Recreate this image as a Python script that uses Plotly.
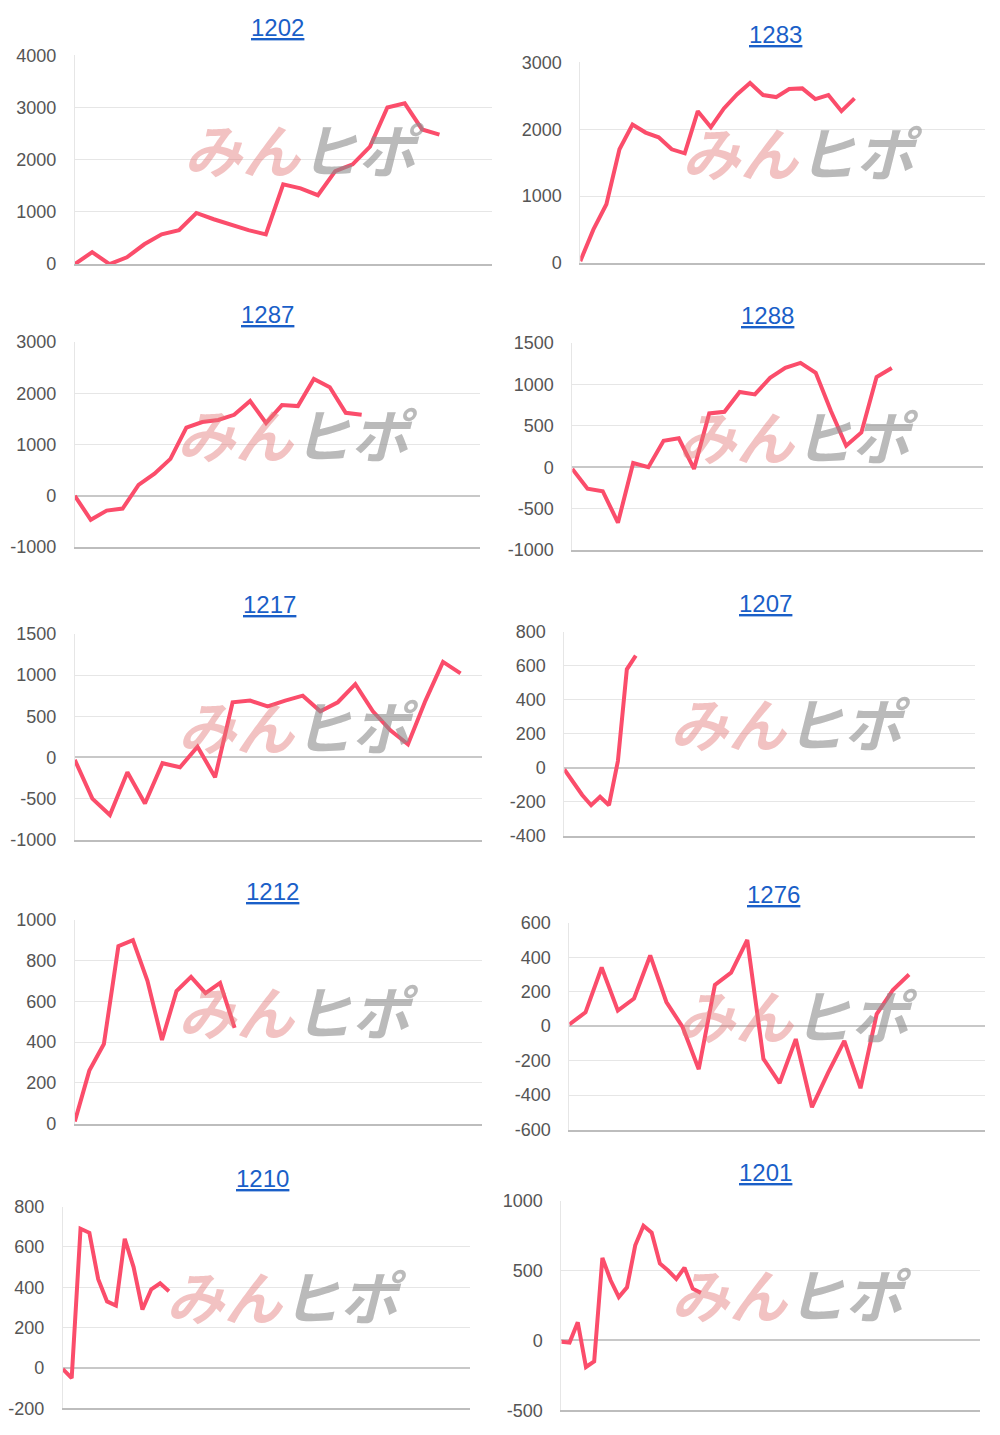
import plotly.graph_objects as go

W, H = 1000, 1435

# values per chart (cumulative result)
titles = ['1202', '1283', '1287', '1288', '1217', '1207', '1212', '1276', '1210', '1201']
vals_1202 = [0, 230, 0, 130, 380, 570, 650, 980, 860, 750, 650, 570, 1530, 1450, 1320, 1780, 1910, 2250, 3000, 3080, 2580, 2480]
vals_1283 = [30, 500, 880, 1700, 2070, 1950, 1880, 1700, 1640, 2270, 2030, 2310, 2520, 2690, 2510, 2480, 2600, 2610, 2450, 2510, 2270, 2460]
vals_1287 = [0, -470, -290, -250, 210, 430, 720, 1330, 1440, 1480, 1580, 1850, 1420, 1770, 1750, 2280, 2120, 1620, 1580]
vals_1288 = [-20, -260, -290, -670, 50, 0, 320, 350, -20, 650, 670, 910, 880, 1080, 1200, 1260, 1140, 680, 260, 420, 1090, 1200]
vals_1217 = [-30, -500, -700, -180, -560, -70, -120, 130, -240, 670, 690, 620, 690, 750, 560, 670, 890, 560, 330, 160, 690, 1160, 1020]
vals_1207 = [-10, -90, -160, -220, -170, -220, 40, 580, 660]
vals_1212 = [10, 260, 390, 870, 900, 700, 410, 650, 720, 640, 690, 470]
vals_1276 = [10, 80, 340, 90, 160, 410, 140, -5, -250, 240, 310, 500, -190, -330, -75, -470, -270, -85, -360, 70, 210, 300]
vals_1210 = [-5, -50, 690, 670, 440, 330, 310, 640, 500, 290, 390, 420, 380]
vals_1201 = [-10, -15, 130, -190, -150, 590, 430, 310, 380, 680, 820, 770, 550, 500, 440, 520, 370, 340]
series = [vals_1202, vals_1283, vals_1287, vals_1288, vals_1217,
          vals_1207, vals_1212, vals_1276, vals_1210, vals_1201]
x_slots = [24, 31, 25.4, 27, 23.2, 46, 28, 25.7, 46, 51]
y_ranges = [(0, 4000, 1000), (0, 3000, 1000), (-1000, 3000, 1000), (-1000, 1500, 500),
            (-1000, 1500, 500), (-400, 800, 200), (0, 1000, 200), (-600, 600, 200),
            (-200, 800, 200), (-500, 1000, 500)]

# pixel boxes of each plot area: x0, x1, ytop, ybottom, title center x, title y
boxes = [(72, 490, 54, 263, 275, 26), (579, 985, 61, 262, 775, 33),
         (72, 478, 341, 546, 265, 313), (571, 983, 342, 549, 767, 314),
         (72, 480, 633, 839, 267, 604), (563, 975, 631, 835, 765, 603),
         (72, 480, 919, 1123, 270, 891), (568, 985, 922, 1129, 773, 894),
         (60, 468, 1206, 1408, 260, 1178), (560, 980, 1200, 1410, 765, 1172)]


def px(x):
    return (x - 8) / W


def py_(y):
    # page offset correction
    return 1 - ((y - 16.7) / 0.9867) / H


fig = go.Figure()
annotations = []
layout = {}
for i, (name, vals) in enumerate(zip(titles, series)):
    n = i + 1
    x0, x1, yt, yb, tx, ty = boxes[i]
    ymin, ymax, dt = y_ranges[i]
    tv = list(range(ymin, ymax + 1, dt))
    xa = 'xaxis' if n == 1 else 'xaxis%d' % n
    ya = 'yaxis' if n == 1 else 'yaxis%d' % n
    layout[xa] = dict(domain=[px(x0), px(x1)], range=[0, x_slots[i]], showgrid=False,
                      showticklabels=False, zeroline=False, anchor='y' if n == 1 else 'y%d' % n,
                      showline=True, linecolor='#bdbdbd', linewidth=1.5)
    layout[ya] = dict(domain=[py_(yb), py_(yt)], range=[ymin, ymax],
                      tickvals=tv, ticktext=[str(v) for v in tv],
                      anchor='x' if n == 1 else 'x%d' % n,
                      gridcolor='#e6e6e6', zeroline=True, zerolinecolor='#c8c8c8',
                      zerolinewidth=1.5, showline=True, linecolor='#e6e6e6',
                      ticks='', ticklabelstandoff=14,
                      tickfont=dict(size=18, color='#555555', family='Liberation Sans'))
    fig.add_trace(go.Scatter(x=list(range(len(vals))), y=vals, mode='lines',
                             line=dict(color='#fb4d6b', width=4),
                             xaxis='x' if n == 1 else 'x%d' % n,
                             yaxis='y' if n == 1 else 'y%d' % n,
                             showlegend=False, hoverinfo='skip'))
    annotations.append(dict(text='<u>%s</u>' % name, x=px(tx), y=py_(ty),
                            xref='paper', yref='paper', showarrow=False,
                            xanchor='center', yanchor='middle',
                            font=dict(size=24, color='#1a5fc8', family='Liberation Sans')))
    # watermark
    annotations.append(dict(text='<b><i><span style="color:rgba(226,120,120,0.45)">みん</span>'
                                 '<span style="color:rgba(140,140,140,0.6)">ヒポ</span></i></b>',
                            x=px(x0 + 0.55 * (x1 - x0)), y=py_((yt + yb) / 2 - 12),
                            xanchor='center', yanchor='middle',
                            xref='paper', yref='paper', showarrow=False,
                            font=dict(size=58, family='Noto Sans CJK JP')))

fig.update_layout(width=W, height=H, margin=dict(l=0, r=0, t=0, b=0),
                  plot_bgcolor='white', paper_bgcolor='white',
                  annotations=annotations, **layout)
fig.write_html('out.html')
